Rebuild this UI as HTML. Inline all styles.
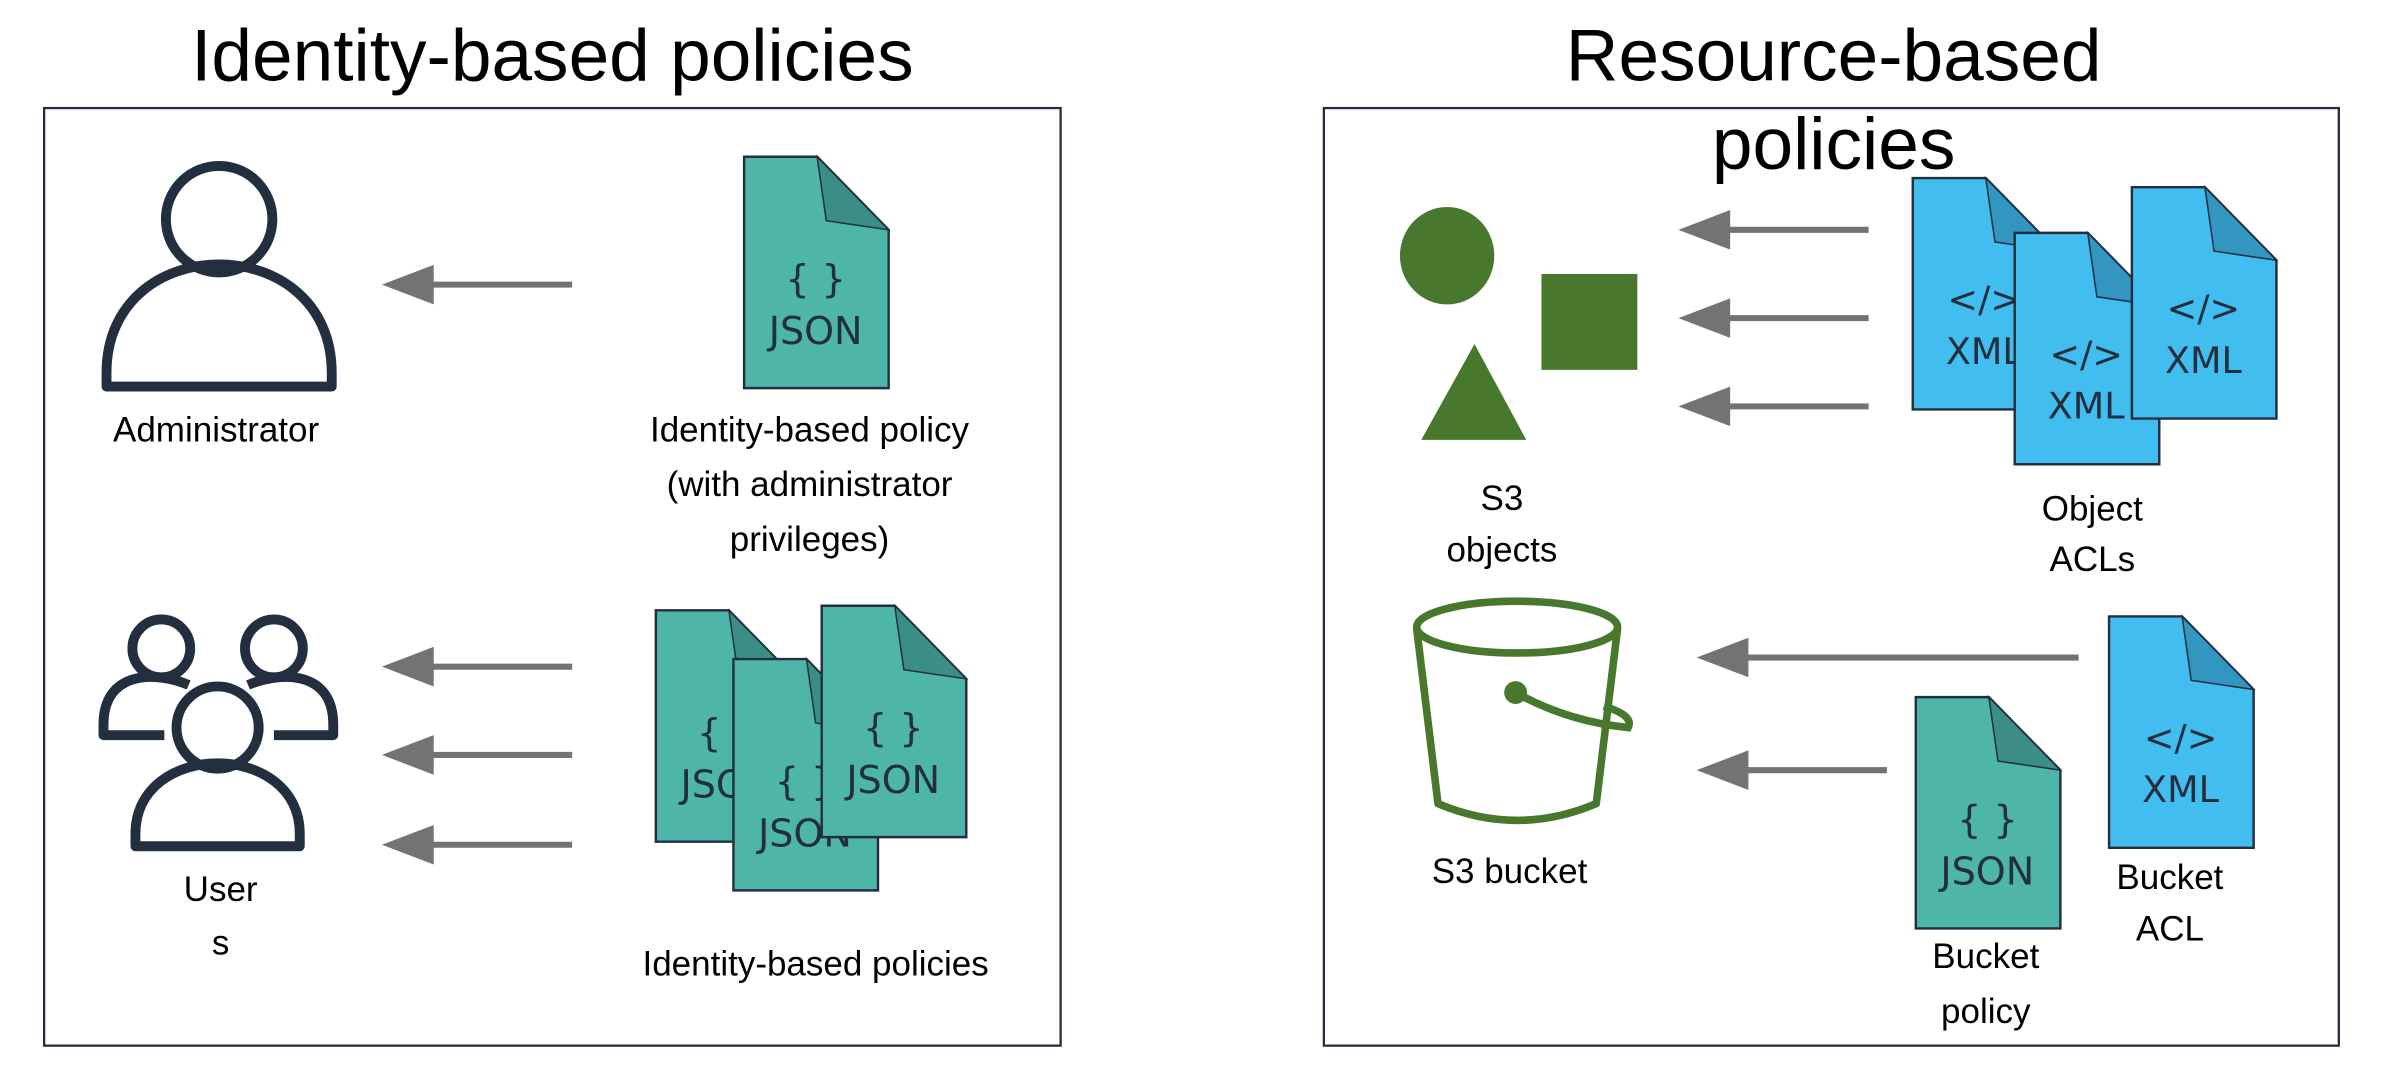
<!DOCTYPE html>
<html><head><meta charset="utf-8"><style>html,body{margin:0;padding:0;background:#fff}svg{display:block}text{font-family:"Liberation Sans",sans-serif;fill:#000}</style></head>
<body>
<svg width="2386" height="1070" viewBox="0 0 1568 703" preserveAspectRatio="none" xmlns="http://www.w3.org/2000/svg">
<defs>
<g id="json"><path d="M0,0H48L95,48V152H0Z" fill="#4db6a8" stroke="#232f3e" stroke-width="1.6"/><path d="M48,0L54,42L95,48Z" fill="#3a8e85" stroke="#232f3e" stroke-width="1"/><text x="47" y="89" text-anchor="middle" font-size="25" style="font-family:'DejaVu Sans',sans-serif;fill:#232f3e">{ }</text><text x="47" y="123" text-anchor="middle" font-size="25" style="font-family:'DejaVu Sans',sans-serif;fill:#232f3e">JSON</text></g>
<g id="xml"><path d="M0,0H48L95,48V152H0Z" fill="#41bdf0" stroke="#232f3e" stroke-width="1.6"/><path d="M48,0L54,42L95,48Z" fill="#3296c0" stroke="#232f3e" stroke-width="1"/><text x="47" y="88" text-anchor="middle" font-size="24" style="font-family:'DejaVu Sans',sans-serif;fill:#232f3e">&lt;/&gt;</text><text x="47" y="122" text-anchor="middle" font-size="24" style="font-family:'DejaVu Sans',sans-serif;fill:#232f3e">XML</text></g>
</defs>
<text x="363" y="53" text-anchor="middle" font-size="48">Identity-based policies</text>
<text x="1205" y="53" text-anchor="middle" font-size="48">Resource-based</text>
<rect x="29" y="71" width="668" height="616" fill="none" stroke="#232f3e" stroke-width="1.5"/>
<rect x="870" y="71" width="667" height="616" fill="none" stroke="#232f3e" stroke-width="1.5"/>
<text x="1205" y="111" text-anchor="middle" font-size="48">policies</text>

<g fill="none" stroke="#232f3e" stroke-width="6.5" stroke-linejoin="round">
<circle cx="144" cy="144" r="35"/><path d="M70,254V245C70,150 218,150 218,245V254Z"/></g>
<text x="142" y="290" text-anchor="middle" font-size="23">Administrator</text>

<g fill="none" stroke="#232f3e" stroke-width="6.5" stroke-linejoin="round">
<circle cx="106" cy="426" r="19"/><circle cx="180" cy="426" r="19"/>
<path d="M108,483H68V476C68,442 100,440 124,450"/><path d="M180,483H219V476C219,442 187,440 163,450"/>
<circle cx="143" cy="478" r="27"/><path d="M89,556V548C89,486 197,486 197,548V556Z"/></g>
<text x="145" y="592" text-anchor="middle" font-size="23">User</text>
<text x="145" y="627" text-anchor="middle" font-size="23">s</text>

<g fill="#737373" stroke="#737373">
<g><line x1="376" y1="187" x2="280" y2="187" stroke-width="4"/><path d="M251,187L285,174V200Z" stroke="none"/></g>
<g><line x1="376" y1="438" x2="280" y2="438" stroke-width="4"/><path d="M251,438L285,425V451Z" stroke="none"/></g>
<g><line x1="376" y1="496" x2="280" y2="496" stroke-width="4"/><path d="M251,496L285,483V509Z" stroke="none"/></g>
<g><line x1="376" y1="555" x2="280" y2="555" stroke-width="4"/><path d="M251,555L285,542V568Z" stroke="none"/></g>
<g><line x1="1228" y1="151" x2="1132" y2="151" stroke-width="4"/><path d="M1103,151L1137,138V164Z" stroke="none"/></g>
<g><line x1="1228" y1="209" x2="1132" y2="209" stroke-width="4"/><path d="M1103,209L1137,196V222Z" stroke="none"/></g>
<g><line x1="1228" y1="267" x2="1132" y2="267" stroke-width="4"/><path d="M1103,267L1137,254V280Z" stroke="none"/></g>
<g><line x1="1366" y1="432" x2="1144" y2="432" stroke-width="4"/><path d="M1115,432L1149,419V445Z" stroke="none"/></g>
<g><line x1="1240" y1="506" x2="1144" y2="506" stroke-width="4"/><path d="M1115,506L1149,493V519Z" stroke="none"/></g>
</g>

<use href="#json" x="489" y="103"/>
<text x="532" y="290" text-anchor="middle" font-size="23">Identity-based policy</text>
<text x="532" y="326" text-anchor="middle" font-size="23">(with administrator</text>
<text x="532" y="362" text-anchor="middle" font-size="23">privileges)</text>

<use href="#json" x="431" y="401"/>
<use href="#json" x="482" y="433"/>
<use href="#json" x="540" y="398"/>
<text x="536" y="641" text-anchor="middle" font-size="23">Identity-based policies</text>

<g fill="#48782e">
<ellipse cx="951" cy="168" rx="31" ry="32"/><rect x="1013" y="180" width="63" height="63"/><path d="M934,289L969,226L1003,289Z"/></g>
<text x="987" y="335" text-anchor="middle" font-size="23">S3</text>
<text x="987" y="369" text-anchor="middle" font-size="23">objects</text>

<use href="#xml" x="1257" y="117"/>
<use href="#xml" x="1324" y="153"/>
<use href="#xml" x="1401" y="123"/>
<text x="1375" y="342" text-anchor="middle" font-size="23">Object</text>
<text x="1375" y="375" text-anchor="middle" font-size="23">ACLs</text>

<g fill="none" stroke="#48782e" stroke-width="5">
<ellipse cx="997" cy="412" rx="66" ry="17"/>
<path d="M931,413L945,528Q997,550 1049,528L1063,413" stroke-linejoin="round"/>
<path d="M996,455Q1030,474 1070,478Q1074,470 1054,464"/><circle cx="996" cy="455" r="5" fill="#48782e"/></g>
<text x="992" y="580" text-anchor="middle" font-size="23">S3 bucket</text>

<use href="#json" x="1259" y="458"/>
<text x="1305" y="636" text-anchor="middle" font-size="23">Bucket</text>
<text x="1305" y="672" text-anchor="middle" font-size="23">policy</text>

<use href="#xml" x="1386" y="405"/>
<text x="1426" y="584" text-anchor="middle" font-size="23">Bucket</text>
<text x="1426" y="618" text-anchor="middle" font-size="23">ACL</text>
</svg>
</body></html>
